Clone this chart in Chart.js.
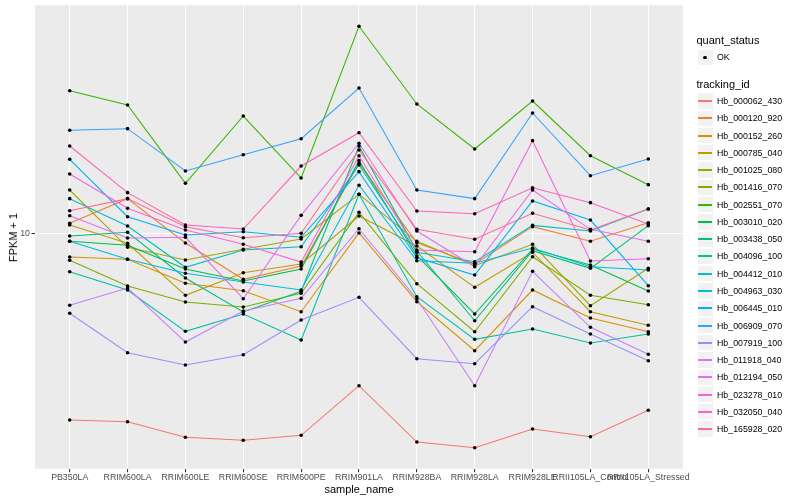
<!DOCTYPE html>
<html><head><meta charset="utf-8">
<script src="https://cdn.jsdelivr.net/npm/chart.js@4.4.1/dist/chart.umd.min.js"></script>
<style>
html,body{margin:0;padding:0;background:#fff;}
#wrap{position:relative;width:800px;height:500px;font-family:"Liberation Sans",Arial,Helvetica,sans-serif;overflow:hidden;}
#c{position:absolute;left:0;top:0;}
.t{position:absolute;white-space:nowrap;color:#000;line-height:1;font-weight:normal;}
.lab{position:absolute;white-space:nowrap;color:#000;font-size:8.8px;line-height:1;transform:translateY(-50%);}
.key{position:absolute;background:#F2F2F2;box-sizing:border-box;border:0.6px solid #fff;}
.seg{position:absolute;height:1.4px;}
.dot{position:absolute;width:3.4px;height:3.4px;border-radius:50%;background:#000;}
#ytitle{writing-mode:vertical-rl;transform:rotate(180deg);font-size:11px;}
</style></head><body>
<div id="wrap">
<canvas id="c" width="800" height="500"></canvas>
<div class="t" id="ytitle" style="left:8px;top:213px;">FPKM + 1</div>
<div class="t" id="xtitle" style="font-size:11px;left:359px;top:489px;transform:translate(-50%,-50%);">sample_name</div>
<div id="legend"></div>
</div>
<script>
// ---- data ----
const categories = ["PB350LA","RRIM600LA","RRIM600LE","RRIM600SE","RRIM600PE","RRIM901LA","RRIM928BA","RRIM928LA","RRIM928LE","RRII105LA_Control","RRII105LA_Stressed"];
const trackingIds = ["Hb_000062_430","Hb_000120_920","Hb_000152_260","Hb_000785_040","Hb_001025_080","Hb_001416_070","Hb_002551_070","Hb_003010_020","Hb_003438_050","Hb_004096_100","Hb_004412_010","Hb_004963_030","Hb_006445_010","Hb_006909_070","Hb_007919_100","Hb_011918_040","Hb_012194_050","Hb_023278_010","Hb_032050_040","Hb_165928_020"];
const yTickValues = [10];

const hb_000062_430 = [1.791, 1.763, 1.528, 1.486, 1.556, 2.457, 1.463, 1.388, 1.649, 1.536, 1.959];
const hb_000120_920 = [10.96, 13.76, 9.146, 6.546, 7.400, 19.05, 9.171, 7.536, 10.63, 9.290, 11.02];
const hb_000152_260 = [8.038, 7.870, 6.310, 5.894, 4.857, 10.03, 5.326, 3.391, 5.932, 4.584, 4.040];
const hb_000785_040 = [10.80, 9.120, 5.649, 6.956, 7.536, 11.73, 8.897, 6.081, 8.394, 4.857, 4.285];
const hb_001025_080 = [14.90, 8.790, 7.820, 8.630, 9.489, 14.32, 9.290, 7.420, 9.036, 5.133, 7.244];
const hb_001416_070 = [7.798, 6.155, 5.311, 5.072, 5.754, 12.13, 6.287, 4.040, 8.061, 5.649, 5.181];
const hb_002551_070 = [37.19, 32.60, 15.85, 29.45, 16.64, 67.30, 32.90, 21.74, 33.82, 20.43, 15.65];
const hb_003010_020 = [9.290, 8.954, 7.197, 6.445, 7.197, 19.52, 8.135, 4.756, 8.653, 7.467, 5.878];
const hb_003438_050 = [9.754, 10.09, 6.624, 4.845, 5.861, 22.35, 8.496, 4.470, 8.520, 7.244, 10.73];
const hb_004096_100 = [7.020, 5.932, 4.055, 4.756, 3.743, 14.32, 5.576, 3.767, 4.142, 3.641, 3.956];
const hb_004412_010 = [13.76, 10.70, 7.311, 8.574, 8.840, 18.75, 8.394, 7.699, 10.76, 10.21, 12.51];
const hb_004963_030 = [9.290, 7.870, 6.918, 6.386, 5.932, 15.56, 7.769, 7.586, 8.734, 7.352, 7.131];
const hb_006445_010 = [19.77, 11.65, 9.845, 10.15, 9.638, 17.64, 7.987, 6.810, 13.47, 11.30, 6.172];
const hb_006909_070 = [25.82, 26.21, 17.75, 20.62, 23.90, 38.12, 14.90, 13.76, 30.28, 17.00, 19.82];
const hb_007919_100 = [4.786, 3.330, 2.973, 3.269, 4.500, 5.546, 3.150, 3.009, 5.086, 3.956, 3.093];
const hb_011918_040 = [5.152, 6.042, 3.674, 4.889, 5.495, 10.43, 5.460, 2.457, 7.047, 4.207, 3.281];
const hb_012194_050 = [11.76, 9.577, 9.638, 5.475, 11.80, 22.91, 10.21, 7.352, 14.90, 10.37, 9.290];
const hb_023278_010 = [17.27, 12.59, 10.31, 9.036, 7.677, 20.43, 8.574, 8.441, 23.47, 7.748, 7.914];
const hb_032050_040 = [22.35, 14.54, 10.80, 10.40, 18.58, 25.26, 12.28, 11.98, 15.22, 13.26, 10.89];
const hb_165928_020 = [12.31, 13.76, 10.63, 9.603, 10.00, 21.54, 10.37, 9.462, 12.02, 10.31, 12.51];

const seriesValues = [hb_000062_430, hb_000120_920, hb_000152_260, hb_000785_040, hb_001025_080, hb_001416_070, hb_002551_070, hb_003010_020, hb_003438_050, hb_004096_100, hb_004412_010, hb_004963_030, hb_006445_010, hb_006909_070, hb_007919_100, hb_011918_040, hb_012194_050, hb_023278_010, hb_032050_040, hb_165928_020];

// ---- styles ----
const palette = ["#F8766D","#EA8331","#D89000","#C09B00","#A3A500","#7CAE00","#39B600","#00BB4E","#00BF7D","#00C1A3","#00BFC4","#00BAE0","#00B0F6","#35A2FF","#9590FF","#C77CFF","#E76BF3","#FA62DB","#FF62BC","#FF6C91"];
const FONT = '"Liberation Sans", Arial, Helvetica, sans-serif';

// y limits: data range in log space, expanded 5% each side (ggplot default)
let lo = Infinity, hi = -Infinity;
seriesValues.forEach(a => a.forEach(v => { const l = Math.log10(v); if (l < lo) lo = l; if (l > hi) hi = l; }));
const ex = (hi - lo) * 0.05;
const yMin = Math.pow(10, lo - ex), yMax = Math.pow(10, hi + ex);

const datasets = [];
const allPts = [];
seriesValues.forEach(a => a.forEach((v, i) => allPts.push({x: i + 1, y: v})));
datasets.push({
  label: 'points', data: allPts, showLine: false, order: -1,
  pointRadius: 1.8, pointBackgroundColor: '#000', pointBorderWidth: 0, pointHoverRadius: 1.8
});
seriesValues.forEach((a, s) => {
  datasets.push({
    label: trackingIds[s],
    data: a.map((v, i) => ({x: i + 1, y: v})),
    borderColor: palette[s], backgroundColor: palette[s],
    borderWidth: 1.07, pointRadius: 0, tension: 0, fill: false,
    order: 20 - s
  });
});

const panelBg = {
  id: 'panelBg',
  beforeDraw(chart) {
    const {ctx, chartArea: a} = chart;
    ctx.save();
    ctx.fillStyle = '#EBEBEB';
    ctx.fillRect(a.left, a.top, a.right - a.left, a.bottom - a.top);
    ctx.restore();
  }
};

new Chart(document.getElementById('c'), {
  type: 'line',
  data: { datasets },
  options: {
    responsive: false, animation: false, devicePixelRatio: 1,
    layout: { padding: { left: 0, right: 117, top: 5.2, bottom: 0 } },
    plugins: { legend: { display: false }, tooltip: { enabled: false } },
    events: [],
    scales: {
      x: {
        type: 'linear', min: 0.4, max: 11.6,
        afterBuildTicks: s => { s.ticks = categories.map((c, i) => ({ value: i + 1 })); },
        afterFit: s => { s.height = 31.2; s.paddingLeft = 0; s.paddingRight = 0; },
        ticks: {
          autoSkip: false, maxRotation: 0, minRotation: 0, color: '#4D4D4D', padding: 0,
          font: { family: FONT, size: 8.8 },
          callback: v => categories[Math.round(v) - 1]
        },
        grid: { color: '#FFFFFF', lineWidth: 1.07, tickColor: '#333333', tickLength: 3.5, tickWidth: 1.07 },
        border: { display: false }
      },
      y: {
        type: 'logarithmic', min: yMin, max: yMax,
        afterBuildTicks: s => { s.ticks = yTickValues.map(v => ({ value: v })); },
        afterFit: s => { s.width = 35; s.paddingTop = 0; s.paddingBottom = 0; },
        ticks: {
          color: '#4D4D4D', padding: 1.5, font: { family: FONT, size: 8.8 },
          callback: v => String(v)
        },
        grid: { color: '#FFFFFF', lineWidth: 1.07, tickColor: '#333333', tickLength: 3.5, tickWidth: 1.07 },
        border: { display: false }
      }
    }
  },
  plugins: [panelBg]
});

// ---- legend (HTML) ----
const lg = document.getElementById('legend');
function add(html) { lg.insertAdjacentHTML('beforeend', html); }
const KX = 696.5, KW = 17.28, LX = 717;
add(`<div class="t" style="font-size:11px;left:${KX}px;top:40px;transform:translateY(-50%);">quant_status</div>`);
add(`<div class="key" style="left:${KX}px;top:${57.4 - KW/2}px;width:${KW}px;height:${KW}px;"></div>`);
add(`<div class="dot" style="left:${KX + KW/2 - 1.7}px;top:${57.4 - 1.7}px;"></div>`);
add(`<div class="lab" style="left:${LX}px;top:57.4px;">OK</div>`);
add(`<div class="t" style="font-size:11px;left:${KX}px;top:84.3px;transform:translateY(-50%);">tracking_id</div>`);
trackingIds.forEach((id, i) => {
  const cy = 101 + i * 17.27;
  add(`<div class="key" style="left:${KX}px;top:${cy - KW/2}px;width:${KW}px;height:${KW}px;"></div>`);
  add(`<div class="seg" style="left:698px;top:${Math.round(cy) - 0.7}px;width:14px;background:${palette[i]};"></div>`);
  add(`<div class="lab" style="left:${LX}px;top:${cy}px;">${id}</div>`);
});
</script>
</body></html>
